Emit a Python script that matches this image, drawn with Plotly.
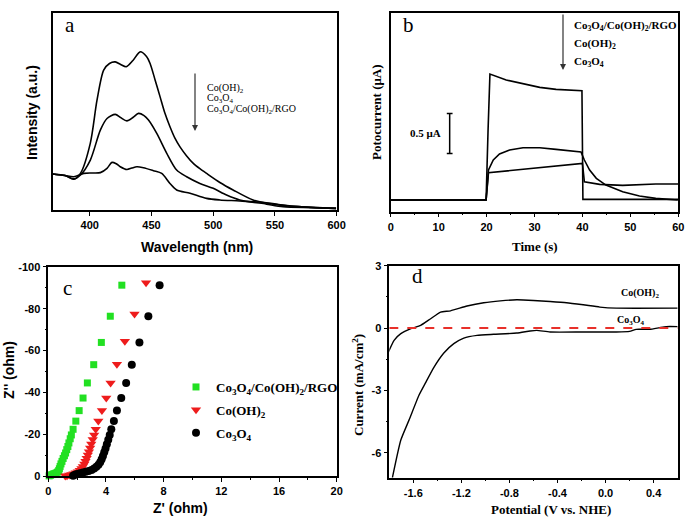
import plotly.graph_objects as go

W, H = 685, 519

# ── panel a: PL spectra (arbitrary intensity units) ─────────────────────────
pl_coh_x = [369.6, 380, 387.1, 392.5, 400.5, 405.9, 411.3, 416, 420.7, 425, 429.6, 435,
            440.9, 446, 448.9, 453, 457, 461, 465, 469, 473.1, 478.5, 483.9, 489.2,
            494.6, 505.4, 516.1, 532.3, 548.4, 561.8, 580, 599.5]
pl_coh_y = [18.3, 17.5, 15.6, 18.6, 34.0, 55.8, 71.1, 74.5, 75.3, 74.0, 72.8, 76.0,
            80.4, 78.0, 74.5, 66.0, 57.5, 49.0, 42.3, 36.5, 32.1, 27.5, 23.7, 21.0,
            18.6, 14.0, 10.2, 5.1, 3.0, 2.0, 1.3, 0.8]
pl_co3o4_x = [369.6, 380, 387.1, 392.5, 400.5, 408.6, 414, 420.7, 425, 430.1, 435,
              439.5, 444, 447.6, 454.3, 462.4, 470.4, 478.5, 489.2, 500, 510.8,
              521.5, 543, 556.5, 580, 599.5]
pl_co3o4_y = [18.3, 17.5, 15.8, 17.8, 25.4, 40.6, 46.5, 48.6, 47.0, 45.3, 47.0,
              49.1, 48.0, 45.7, 38.9, 28.8, 20.3, 16.9, 13.5, 11.0, 7.6,
              5.1, 3.0, 1.7, 1.2, 0.8]
pl_comp_x = [369.6, 380, 387.1, 395.2, 402, 408.6, 414, 418, 421.5, 424.7, 430.1,
             434, 438.2, 443.5, 451.6, 458.3, 465, 470.4, 481.2, 494.6, 505.4,
             521.5, 543, 556.5, 569.9, 599.5]
pl_comp_y = [18.3, 17.5, 16.9, 18.6, 18.8, 19.0, 21.2, 24.2, 23.5, 22.0, 20.6,
             21.3, 22.0, 21.5, 20.0, 18.6, 13.5, 10.2, 8.5, 5.9, 5.1,
             4.6, 3.7, 2.5, 1.7, 0.8]

# ── panel b: transient photocurrent (μA) ────────────────────────────────────
pc_comp_t = [0, 10, 19.9, 20.3, 20.7, 24.1, 27.6, 31.1, 34.5, 38.0, 39.9, 40.1, 50, 60]
pc_comp_i = [0.146, 0.146, 0.146, 1.0, 1.72, 1.646, 1.604, 1.554, 1.529, 1.521, 1.512,
             0.154, 0.154, 0.154]
pc_coh_t = [0, 10, 19.9, 20.4, 21.4, 22.7, 24.8, 27.6, 31.1, 34.5, 38.0, 39.7, 40.4,
            41.5, 42.9, 44.9, 48.4, 51.9, 55.3, 59.9]
pc_coh_i = [0.146, 0.146, 0.146, 0.521, 0.646, 0.721, 0.771, 0.800, 0.800, 0.779,
            0.758, 0.746, 0.646, 0.521, 0.417, 0.333, 0.250, 0.196, 0.167, 0.146]
pc_co3o4_t = [0, 10, 19.9, 20.4, 40.0, 40.4, 43.6, 48.4, 55.3, 60]
pc_co3o4_i = [0.146, 0.146, 0.146, 0.4875, 0.604, 0.375, 0.342, 0.329, 0.346, 0.346]
scale_bar_t = 12.3
scale_bar_i = [0.729, 1.229]

# ── panel c: Nyquist plots (Z' ohm, Z'' ohm) ───────────────────────────────
nq_comp_re = [5.10, 4.30, 3.68, 3.15, 2.71, 2.41, 2.14, 1.91, 1.72, 1.60, 1.52, 1.43,
              1.36, 1.28, 1.20, 1.12, 1.03, 0.95, 0.88, 0.82, 0.77, 0.72, 0.64, 0.55,
              0.45, 0.35, 0.25, 0.15, 0.06]
nq_comp_im = [-91.2, -76.4, -63.9, -53.3, -44.6, -37.4, -31.4, -26.4, -22.5, -19.8,
              -18.0, -16.0, -14.3, -12.8, -11.2, -9.9, -8.6, -7.2, -6.0, -4.8, -3.7,
              -2.8, -2.1, -1.7, -1.4, -1.2, -0.9, -0.6, -0.3]
nq_coh_re = [6.78, 5.98, 5.31, 4.76, 4.32, 4.02, 3.72, 3.47, 3.29, 3.18, 3.08, 2.98,
             2.90, 2.82, 2.74, 2.66, 2.58, 2.50, 2.40, 2.30, 2.18, 2.05, 1.90, 1.75,
             1.60, 1.45, 1.30, 1.18]
nq_coh_im = [-92.4, -77.4, -64.5, -53.5, -44.6, -37.4, -31.4, -26.4, -22.5, -19.8,
             -17.6, -15.5, -13.6, -11.8, -10.2, -8.7, -7.3, -6.0, -4.8, -3.8, -3.0,
             -2.3, -1.8, -1.3, -1.0, -0.7, -0.4, -0.2]
nq_co3o4_re = [7.72, 6.94, 6.32, 5.79, 5.40, 5.06, 4.76, 4.55, 4.37, 4.26, 4.16, 4.06,
               3.97, 3.88, 3.79, 3.70, 3.60, 3.48, 3.34, 3.18, 3.00, 2.80, 2.60, 2.40,
               2.20, 2.00, 1.85, 1.72]
nq_co3o4_im = [-91.2, -76.4, -63.9, -53.3, -44.6, -37.4, -31.4, -26.4, -22.5, -19.8,
               -17.5, -15.4, -13.4, -11.5, -9.8, -8.2, -6.8, -5.6, -4.6, -3.8, -3.1,
               -2.6, -2.2, -1.9, -1.6, -1.2, -0.8, -0.4]
nq_yticks = [0, -20, -40, -60, -80, -100]
nq_yticktext = ['0', '-20', '-40', '-60', '-80', '-100']

# ── panel d: LSV curves (V vs NHE, mA/cm2) ─────────────────────────────────
lsv_coh_v = [-1.807, -1.76, -1.704, -1.62, -1.539, -1.456, -1.373, -1.29, -1.153,
             -1.014, -0.876, -0.739, -0.6, -0.462, -0.325, -0.186, -0.048, 0.089, 0.6]
lsv_coh_i = [-1.15, -0.59, -0.27, -0.03, 0.13, 0.45, 0.77, 0.83, 1.06,
             1.22, 1.31, 1.36, 1.33, 1.28, 1.22, 1.12, 1.01, 0.96, 0.96]
lsv_co3o4_v = [-1.774, -1.704, -1.636, -1.553, -1.50, -1.43, -1.346, -1.263, -1.18,
               -1.07, -0.932, -0.739, -0.628, -0.573, -0.462, -0.186, 0.089, 0.2,
               0.255, 0.366, 0.449, 0.504, 0.6]
lsv_co3o4_i = [-7.2, -5.39, -4.43, -3.23, -2.65, -1.9, -1.2, -0.75, -0.48,
               -0.35, -0.30, -0.24, -0.14, -0.11, -0.19, -0.19, -0.19, -0.16,
               -0.06, -0.06, 0.02, 0.07, 0.07]
lsv_xticks = [-1.6, -1.2, -0.8, -0.4, 0.0, 0.4]
lsv_xticktext = ['-1.6', '-1.2', '-0.8', '-0.4', '0.0', '0.4']
lsv_yticks = [3, 0, -3, -6]
lsv_yticktext = ['3', '0', '-3', '-6']


def px(x):
    return x / W


def py(y):
    return 1 - y / H


SANS = 'Liberation Sans'
SERIF = 'Liberation Serif'
tickfont = dict(family=SANS, size=11, color='black', weight='bold')
axis_common = dict(showline=True, linecolor='black', linewidth=1.5, mirror=True,
                   ticks='outside', ticklen=4, tickwidth=1.2, tickcolor='black',
                   showgrid=False, zeroline=False, tickfont=tickfont)

fig = go.Figure()

# panel a
for xs, ys in [(pl_coh_x, pl_coh_y), (pl_co3o4_x, pl_co3o4_y), (pl_comp_x, pl_comp_y)]:
    fig.add_trace(go.Scatter(x=xs, y=ys, mode='lines', xaxis='x', yaxis='y',
                             line=dict(color='black', width=1.6, shape='spline',
                                       smoothing=0.8),
                             showlegend=False, hoverinfo='skip'))

# panel b
for ts, cs in [(pc_comp_t, pc_comp_i), (pc_coh_t, pc_coh_i), (pc_co3o4_t, pc_co3o4_i)]:
    fig.add_trace(go.Scatter(x=ts, y=cs, mode='lines', xaxis='x2', yaxis='y2',
                             line=dict(color='black', width=1.6),
                             showlegend=False, hoverinfo='skip'))

# panel c
nq_series = [
    ('Co<sub>3</sub>O<sub>4</sub>/Co(OH)<sub>2</sub>/RGO', nq_comp_re, nq_comp_im,
     '#22e022', 'square', 7),
    ('Co(OH)<sub>2</sub>', nq_coh_re, nq_coh_im, '#ee1c1c', 'triangle-down', 9),
    ('Co<sub>3</sub>O<sub>4</sub>', nq_co3o4_re, nq_co3o4_im, 'black', 'circle', 8),
]
for i, (name, xs, ys, col, sym, sz) in enumerate(nq_series):
    fig.add_trace(go.Scatter(x=xs, y=ys, mode='markers', xaxis='x3', yaxis='y3',
                             name=name, legendgroup=f'g{i}', cliponaxis=False,
                             marker=dict(color=col, symbol=sym, size=sz,
                                         line=dict(width=0))))

# panel d
for vs, js in [(lsv_coh_v, lsv_coh_i), (lsv_co3o4_v, lsv_co3o4_i)]:
    fig.add_trace(go.Scatter(x=vs, y=js, mode='lines', xaxis='x4', yaxis='y4',
                             line=dict(color='black', width=1.4, shape='spline',
                                       smoothing=0.5),
                             showlegend=False, hoverinfo='skip'))

fig.update_layout(
    width=W, height=H,
    margin=dict(l=0, r=0, t=0, b=0, autoexpand=False),
    paper_bgcolor='white', plot_bgcolor='white',
    font=dict(family=SANS, color='black'),
    xaxis=dict(domain=[0.0769, 0.4915], range=[370, 600], tickvals=[400, 450, 500, 550, 600],
               anchor='y', **axis_common),
    yaxis=dict(domain=[0.5954, 0.9744], range=[0, 100], anchor='x',
               showline=True, linecolor='black', linewidth=1.5, mirror=True,
               showticklabels=False, ticks='', showgrid=False, zeroline=False),
    xaxis2=dict(domain=[0.5704, 0.9902], range=[0, 60], dtick=10, anchor='y2',
                minor=dict(dtick=5, ticks='outside', ticklen=2, tickcolor='black'),
                **axis_common),
    yaxis2=dict(domain=[0.5921, 0.9755], range=[0, 2.4875], anchor='x2',
                showline=True, linecolor='black', linewidth=1.5, mirror=True,
                showticklabels=False, ticks='', showgrid=False, zeroline=False),
    xaxis3=dict(domain=[0.0705, 0.4915], range=[0, 20], dtick=4, anchor='y3',
                minor=dict(dtick=2, ticks='outside', ticklen=2, tickcolor='black'),
                **axis_common),
    yaxis3=dict(domain=[0.0819, 0.4861], range=[0, -100], anchor='x3',
                tickvals=nq_yticks, ticktext=nq_yticktext,
                minor=dict(tickvals=[-10, -30, -50, -70, -90], ticks='outside',
                           ticklen=2, tickcolor='black'),
                **axis_common),
    xaxis4=dict(domain=[0.5683, 0.9893], range=[-1.8, 0.6], anchor='y4',
                tickvals=lsv_xticks, ticktext=lsv_xticktext,
                minor=dict(tickvals=[-1.4, -1.0, -0.6, -0.2, 0.2], ticks='outside',
                           ticklen=2, tickcolor='black'),
                **axis_common),
    yaxis4=dict(domain=[0.0796, 0.4880], range=[-7.2, 3], anchor='x4',
                tickvals=lsv_yticks, ticktext=lsv_yticktext,
                minor=dict(tickvals=[1.5, -1.5, -4.5], ticks='outside',
                           ticklen=2, tickcolor='black'),
                **axis_common),
    showlegend=True,
    legend=dict(x=px(176), y=py(372), xanchor='left', yanchor='top',
                bgcolor='rgba(0,0,0,0)', itemwidth=30,
                font=dict(family=SERIF, size=13, color='black', weight='bold'),
                tracegroupgap=3),
)

# scale bar in panel b
fig.add_shape(type='line', xref='x2', yref='y2', x0=scale_bar_t, x1=scale_bar_t,
              y0=scale_bar_i[0], y1=scale_bar_i[1], line=dict(color='black', width=1.5))
for yv in scale_bar_i:
    fig.add_shape(type='line', xref='x2', yref='y2', x0=scale_bar_t - 0.6,
                  x1=scale_bar_t + 0.6, y0=yv, y1=yv, line=dict(color='black', width=1.5))

# zero reference line in panel d
fig.add_shape(type='line', xref='x4', yref='y4', x0=-1.8, x1=0.6, y0=0, y1=0,
              line=dict(color='#e8302a', width=2, dash='dash'))

# arrows in panels a and b
fig.add_annotation(x=px(195), y=py(131), ax=0, ay=-59, xref='paper', yref='paper',
                   axref='pixel', ayref='pixel', showarrow=True, arrowhead=2,
                   arrowsize=1, arrowwidth=1.2, arrowcolor='#333', text='')
fig.add_annotation(x=px(563), y=py(70), ax=0, ay=-57, xref='paper', yref='paper',
                   axref='pixel', ayref='pixel', showarrow=True, arrowhead=2,
                   arrowsize=1, arrowwidth=1.2, arrowcolor='#333', text='')

texts = [
    # panel letters
    ('a', 70, 25, SERIF, 21, 'normal', 'center', 0),
    ('b', 408, 25, SERIF, 21, 'normal', 'center', 0),
    ('c', 67, 288, SERIF, 21, 'normal', 'center', 0),
    ('d', 417, 276, SERIF, 21, 'normal', 'center', 0),
    # panel a key
    ('Co(OH)<sub>2</sub>', 205, 88, SERIF, 10, 'normal', 'left', 0),
    ('Co<sub>3</sub>O<sub>4</sub>', 205, 99, SERIF, 10, 'normal', 'left', 0),
    ('Co<sub>3</sub>O<sub>4</sub>/Co(OH)<sub>2</sub>/RGO', 205, 110, SERIF, 10, 'normal', 'left', 0),
    # panel b key
    ('Co<sub>3</sub>O<sub>4</sub>/Co(OH)<sub>2</sub>/RGO', 572, 26, SERIF, 11, 'bold', 'left', 0),
    ('Co(OH)<sub>2</sub>', 572, 44, SERIF, 11, 'bold', 'left', 0),
    ('Co<sub>3</sub>O<sub>4</sub>', 572, 62, SERIF, 11, 'bold', 'left', 0),
    ('0.5 μA', 426, 133, SERIF, 11, 'bold', 'center', 0),
    # panel d labels
    ('Co(OH)<sub>2</sub>', 640, 293, SERIF, 10, 'bold', 'center', 0),
    ('Co<sub>3</sub>O<sub>4</sub>', 631, 320, SERIF, 10, 'bold', 'center', 0),
    # axis titles
    ('Intensity (a.u.)', 32, 112, SANS, 14, 'bold', 'center', -90),
    ('Wavelength (nm)', 197, 247, SANS, 14, 'bold', 'center', 0),
    ('Potocurrent (μA)', 377, 112, SERIF, 13, 'bold', 'center', -90),
    ('Time (s)', 535, 246, SERIF, 13, 'bold', 'center', 0),
    ("Z'' (ohm)", 9, 370, SANS, 14, 'bold', 'center', -90),
    ("Z' (ohm)", 180, 508, SANS, 14, 'bold', 'center', 0),
    ('Current (mA/cm<sup>2</sup>)', 358, 385, SERIF, 13, 'bold', 'center', -90),
    ('Potential (V vs. NHE)', 551, 509, SERIF, 13, 'bold', 'center', 0),
]
for txt, x, y, fam, sz, wt, anchor, ang in texts:
    fig.add_annotation(x=px(x), y=py(y), xref='paper', yref='paper', text=txt,
                       showarrow=False, xanchor=anchor, yanchor='middle', textangle=ang,
                       font=dict(family=fam, size=sz, color='black', weight=wt))

fig.write_html('out.html', config={'displayModeBar': False},
               post_script="document.body.style.margin='0';")
